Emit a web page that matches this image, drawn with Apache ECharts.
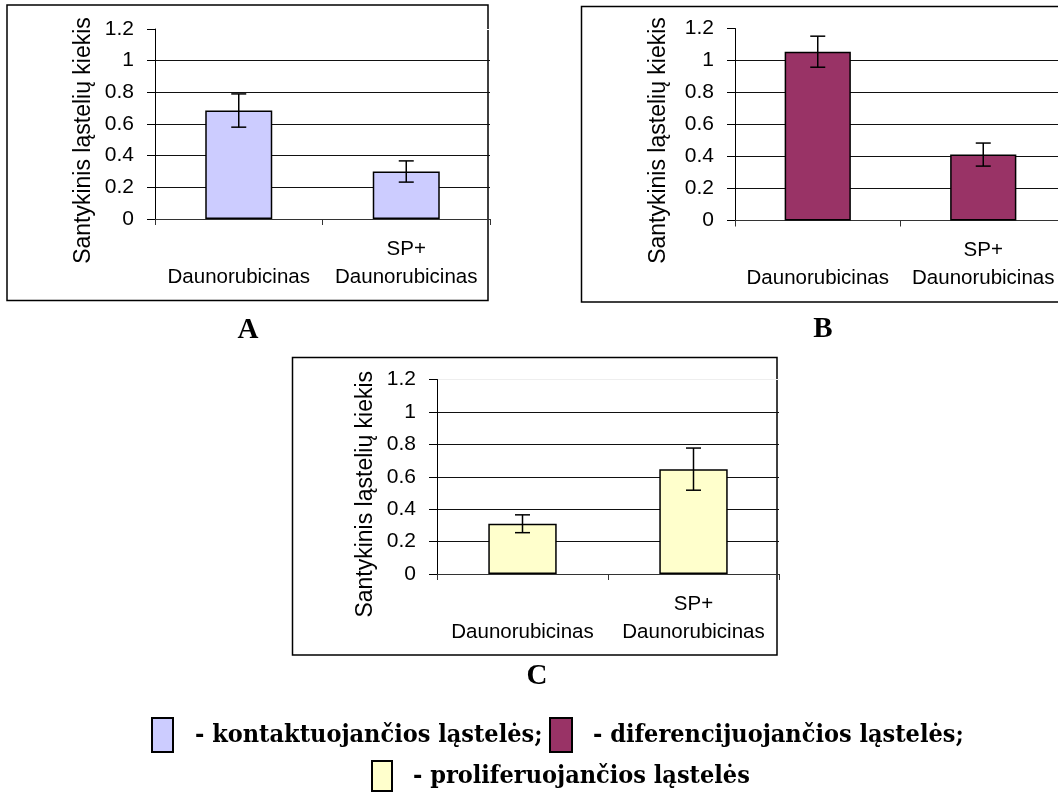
<!DOCTYPE html>
<html>
<head>
<meta charset="utf-8">
<script src="https://cdn.jsdelivr.net/npm/echarts@6/dist/echarts.min.js"></script>
<style>
  html, body { margin: 0; padding: 0; background: #fff; }
  #chart { width: 1058px; height: 792px; }
</style>
</head>
<body>
<div id="chart"></div>
<script>
// Categories shared by all three panels
const categories = ['Daunorubicinas', 'SP+\nDaunorubicinas'];

// Panel A – contacting cells
const contactValues = [0.685, 0.300];
const contactErrors = [0.105, 0.067];

// Panel B – differentiating cells
const diffValues = [1.055, 0.412];
const diffErrors = [0.097, 0.072];

// Panel C – proliferating cells
const prolifValues = [0.310, 0.647];
const prolifErrors = [0.055, 0.130];

// Value axis range
const yMin = 0;
const yMax = 1.2;
const yStep = 0.2;

const axisTitle = 'Santykinis ląstelių kiekis';
const panelLetters = ['A', 'B', 'C'];
const legendLabels = [
  '- kontaktuojančios ląstelės;',
  '- diferencijuojančios ląstelės;',
  '- proliferuojančios ląstelės'
];
const barColors = ['#ccccff', '#993366', '#ffffcc'];

const SANS = '"Liberation Sans", Arial, sans-serif';
const SERIF = '"Liberation Serif", "Times New Roman", serif';
const LEGEND_FONT = '"DejaVu Serif Condensed", "DejaVu Serif", serif';

// Plot areas (pixel boxes) of the three panels
const grids = [
  { left: 155, top: 29, width: 335, height: 190 },
  { left: 735, top: 28.5, width: 331, height: 192 },
  { left: 437, top: 379.5, width: 342, height: 194.5 }
];
const nameShift = [16.5, 16, 17.5];

function errData(vals, errs) {
  return vals.map((v, i) => [i, v - errs[i], v + errs[i]]);
}

function renderErr(params, api) {
  const idx = api.value(0);
  const lo = api.coord([idx, api.value(1)]);
  const hi = api.coord([idx, api.value(2)]);
  const half = 7.5;
  const st = { stroke: '#000', lineWidth: 1.5 };
  return {
    type: 'group',
    children: [
      { type: 'line', shape: { x1: hi[0], y1: hi[1], x2: lo[0], y2: lo[1] }, style: st },
      { type: 'line', shape: { x1: hi[0] - half, y1: hi[1], x2: hi[0] + half, y2: hi[1] }, style: st },
      { type: 'line', shape: { x1: lo[0] - half, y1: lo[1], x2: lo[0] + half, y2: lo[1] }, style: st }
    ]
  };
}

const topLineColors = ['#ffffff', '#ffffff', '#eeeeee'];

const xAxes = grids.map((g, i) => ({
  type: 'category',
  gridIndex: i,
  data: categories,
  boundaryGap: true,
  axisLine: { lineStyle: { color: '#333', width: 1 } },
  axisTick: { show: true, alignWithLabel: false, length: 6, lineStyle: { color: '#333' } },
  axisLabel: {
    interval: 0,
    color: '#000',
    fontFamily: SANS,
    fontSize: 20.5,
    lineHeight: 28,
    margin: 16,
    formatter: (v) => (v.indexOf('\n') < 0 ? '\n' + v : v)
  },
  splitLine: { show: false }
}));

const yAxes = grids.map((g, i) => ({
  type: 'value',
  gridIndex: i,
  min: yMin,
  max: yMax,
  interval: yStep,
  name: axisTitle,
  nameLocation: 'middle',
  nameRotate: 90,
  nameGap: i === 1 ? 65 : 60,
  nameTextStyle: {
    color: '#000',
    fontFamily: SANS,
    fontSize: 23,
    lineHeight: 23,
    padding: [0, nameShift[i] * 2, 0, 0]
  },
  axisLine: { show: true, lineStyle: { color: '#000', width: 1 } },
  axisTick: { show: true, length: 8, lineStyle: { color: '#000' } },
  axisLabel: { color: '#000', fontFamily: SANS, fontSize: 21, margin: 21 },
  splitLine: {
    show: true,
    lineStyle: {
      color: ['#111', '#111', '#111', '#111', '#111', '#111', topLineColors[i]],
      width: 1
    }
  }
}));

const valueSets = [contactValues, diffValues, prolifValues];
const errorSets = [contactErrors, diffErrors, prolifErrors];

const series = [];
valueSets.forEach((vals, i) => {
  series.push({
    type: 'bar',
    xAxisIndex: i,
    yAxisIndex: i,
    data: vals,
    barWidth: '40%',
    itemStyle: { color: barColors[i], borderColor: '#000', borderWidth: 1.5 },
    silent: true,
    animation: false
  });
  series.push({
    type: 'custom',
    xAxisIndex: i,
    yAxisIndex: i,
    data: errData(vals, errorSets[i]),
    encode: { x: 0, y: [1, 2] },
    renderItem: renderErr,
    z: 5,
    silent: true,
    animation: false
  });
});

// Panel frames, panel letters and the colour key
const frameStyle = { fill: 'none', stroke: '#000', lineWidth: 1.5 };
const graphics = [
  { type: 'rect', shape: { x: 7, y: 5, width: 481, height: 295.5 }, style: frameStyle, z: -1 },
  { type: 'rect', shape: { x: 581.5, y: 6.5, width: 500, height: 295.5 }, style: frameStyle, z: -1 },
  { type: 'rect', shape: { x: 292.5, y: 357.5, width: 484.5, height: 297.5 }, style: frameStyle, z: -1 }
];
const letterPos = [[248, 331], [823, 330], [537, 677]];
panelLetters.forEach((t, i) => {
  graphics.push({
    type: 'text', x: letterPos[i][0], y: letterPos[i][1],
    style: { text: t, fill: '#000', font: 'bold 29px ' + SERIF, align: 'center', verticalAlign: 'middle' }
  });
});
const keyBoxes = [[152, 718, 21, 34], [550, 718, 22, 34], [372, 761, 20, 30]];
const keyTexts = [[195, 735], [593, 735], [413, 776]];
legendLabels.forEach((t, i) => {
  const b = keyBoxes[i];
  graphics.push({
    type: 'rect', shape: { x: b[0], y: b[1], width: b[2], height: b[3] },
    style: { fill: barColors[i], stroke: '#000', lineWidth: 2 }
  });
  graphics.push({
    type: 'text', x: keyTexts[i][0], y: keyTexts[i][1],
    style: { text: t, fill: '#000', font: 'bold 25px ' + LEGEND_FONT, align: 'left', verticalAlign: 'middle' }
  });
});

const chart = echarts.init(document.getElementById('chart'), null, { renderer: 'canvas' });
chart.setOption({
  backgroundColor: '#fff',
  animation: false,
  grid: grids.map(g => Object.assign({ containLabel: false, outerBoundsMode: 'none' }, g)),
  xAxis: xAxes,
  yAxis: yAxes,
  series: series,
  graphic: graphics
});
</script>
</body>
</html>
